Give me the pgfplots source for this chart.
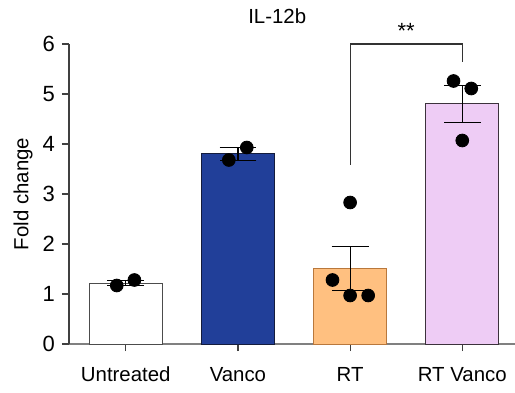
\documentclass[border=0pt]{standalone}
\usepackage{pgfplots}
\pgfplotsset{compat=1.18}
\usepackage{fontspec}
\setmainfont{Liberation Sans}
\definecolor{vanco}{RGB}{33,63,153}
\definecolor{vancoedge}{RGB}{20,28,60}
\definecolor{rtor}{RGB}{255,192,128}
\definecolor{rtedge}{RGB}{185,120,60}
\definecolor{rtv}{RGB}{238,204,245}
\definecolor{rtvedge}{RGB}{60,50,60}
\pgfplotsset{errstyle/.style={error bars/.cd, y dir=both, y explicit,
  error bar style={black, line width=0.6pt},
  error mark options={rotate=90, black, line width=0.6pt, mark size=9.2pt}}}
\begin{document}
\begin{tikzpicture}
\begin{axis}[
  at={(0,0)}, anchor=south west,
  scale only axis, width=223pt, height=150pt,
  xmin=-0.506, xmax=3.47, ymin=0, ymax=6,
  axis lines*=left,
  x axis line style={black!50, line width=0.8pt},
  y axis line style={black!75, line width=0.6pt},
  xtick={0,1,2,3}, xticklabels={Untreated,Vanco,RT,RT Vanco},
  ytick={0,1,2,3,4,5,6},
  tick align=outside, major tick length=3.5pt,
  tick style={black!75, line width=0.6pt},
  xticklabel style={font=\fontsize{10.2}{12}\selectfont, yshift=-4.5pt},
  yticklabel style={font=\fontsize{11}{13}\selectfont},
  /pgf/number format/assume math mode=true,
  ylabel={Fold change},
  ylabel style={font=\fontsize{10.2}{12}\selectfont, at={([xshift=-23pt]rel axis cs:0,0.5)}, anchor=center},
  clip=false,
]
\addplot[ybar, bar width=0.65, bar shift=0pt, fill=white, draw=black!70, line width=0.5pt, errstyle]
  coordinates {(0,1.22) +- (0,0.055)};
\addplot[ybar, bar width=0.65, bar shift=0pt, fill=vanco, draw=vancoedge, line width=0.5pt, errstyle]
  coordinates {(1,3.80) +- (0,0.125)};
\addplot[ybar, bar width=0.65, bar shift=0pt, fill=rtor, draw=rtedge, line width=0.5pt, errstyle]
  coordinates {(2,1.51) +- (0,0.44)};
\addplot[ybar, bar width=0.65, bar shift=0pt, fill=rtv, draw=rtvedge, line width=0.5pt, errstyle]
  coordinates {(3,4.80) +- (0,0.37)};
\addplot[only marks, mark=*, mark size=3.2pt, black]
  coordinates {(-0.08,1.17) (0.077,1.28) (0.919,3.68) (1.079,3.93)
               (2,2.83) (1.843,1.28) (2,0.97) (2.161,0.97)
               (2.922,5.26) (3.08,5.11) (3,4.07)};
\draw[black!80, line width=0.6pt] (axis cs:2,3.58) |- (axis cs:3,6.0) -- (axis cs:3,5.64);
\node[font=\fontsize{11}{13}\selectfont, anchor=base, inner sep=0pt] at (axis cs:2.5,6.11) {**};
\node[font=\fontsize{10.2}{12}\selectfont, anchor=base, inner sep=0pt] at (axis cs:1.35,6.40) {IL-12b};
\end{axis}
\pgfresetboundingbox
\path[use as bounding box] (-34.5pt,-24pt) rectangle (223pt,172pt);
\end{tikzpicture}
\end{document}
